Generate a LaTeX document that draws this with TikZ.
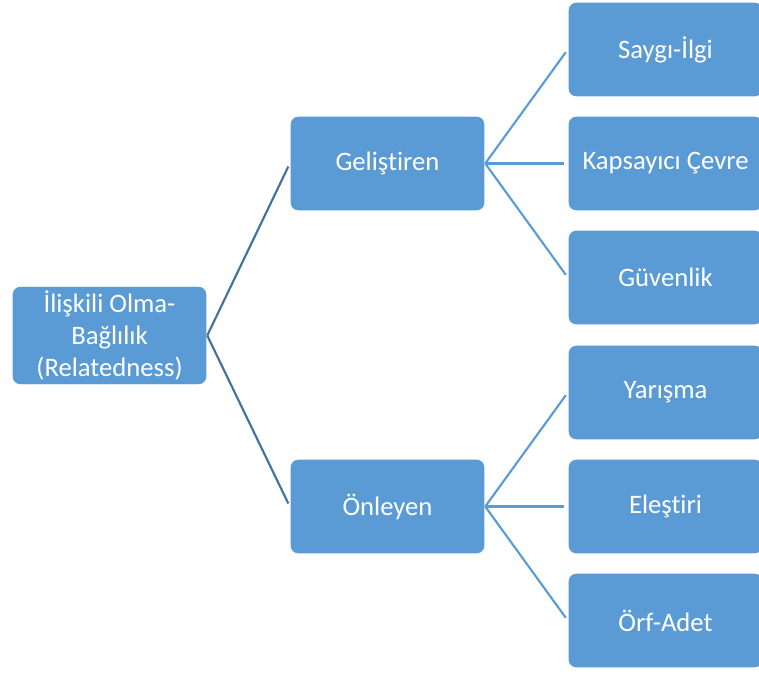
\documentclass[tikz,border=0pt]{standalone}
\usepackage{fontspec}
\setmainfont[Ligatures={NoCommon,NoRare}]{Carlito}
\definecolor{boxblue}{HTML}{5B9BD5}
\definecolor{darkline}{HTML}{41719C}
\tikzset{
  box/.style={draw=white, line width=0.6pt, fill=boxblue, rounded corners=6pt,
    minimum width=146pt, minimum height=71pt, text=white, align=center,
    font=\fontsize{20}{24}\selectfont},
  link/.style={line width=1.6pt, shorten >=2.5pt}
}
\begin{document}
\begin{tikzpicture}[x=0.75pt,y=-0.75pt]
		\useasboundingbox (0,0) rectangle (759,675);
		\clip (0,0) rectangle (759,675);
		\node[box] (rel) at (109.5,335.5) {İlişkili Olma-\\Bağlılık\\(Relatedness)};
		\node[box] (gel) at (387.5,163.5) {Geliştiren};
		\node[box] (onl) at (387.5,506.5) {Önleyen};
		\node[box] (saygi) at (665.5,49.5) {Saygı-İlgi};
		\node[box] (kaps) at (665.5,163.5) {Kapsayıcı Çevre};
		\node[box] (guv) at (665.5,277.5) {Güvenlik};
		\node[box] (yar) at (665.5,392.5) {Yarışma};
		\node[box] (eles) at (665.5,506.5) {Eleştiri};
		\node[box] (orf) at (665.5,620.5) {Örf-Adet};
		\draw[link, darkline] (rel.east) -- (gel.west);
		\draw[link, darkline] (rel.east) -- (onl.west);
		\draw[link, boxblue] (gel.east) -- (saygi.west);
		\draw[link, boxblue] (gel.east) -- (kaps.west);
		\draw[link, boxblue] (gel.east) -- (guv.west);
		\draw[link, boxblue] (onl.east) -- (yar.west);
		\draw[link, boxblue] (onl.east) -- (eles.west);
		\draw[link, boxblue] (onl.east) -- (orf.west);
\end{tikzpicture}
\end{document}
